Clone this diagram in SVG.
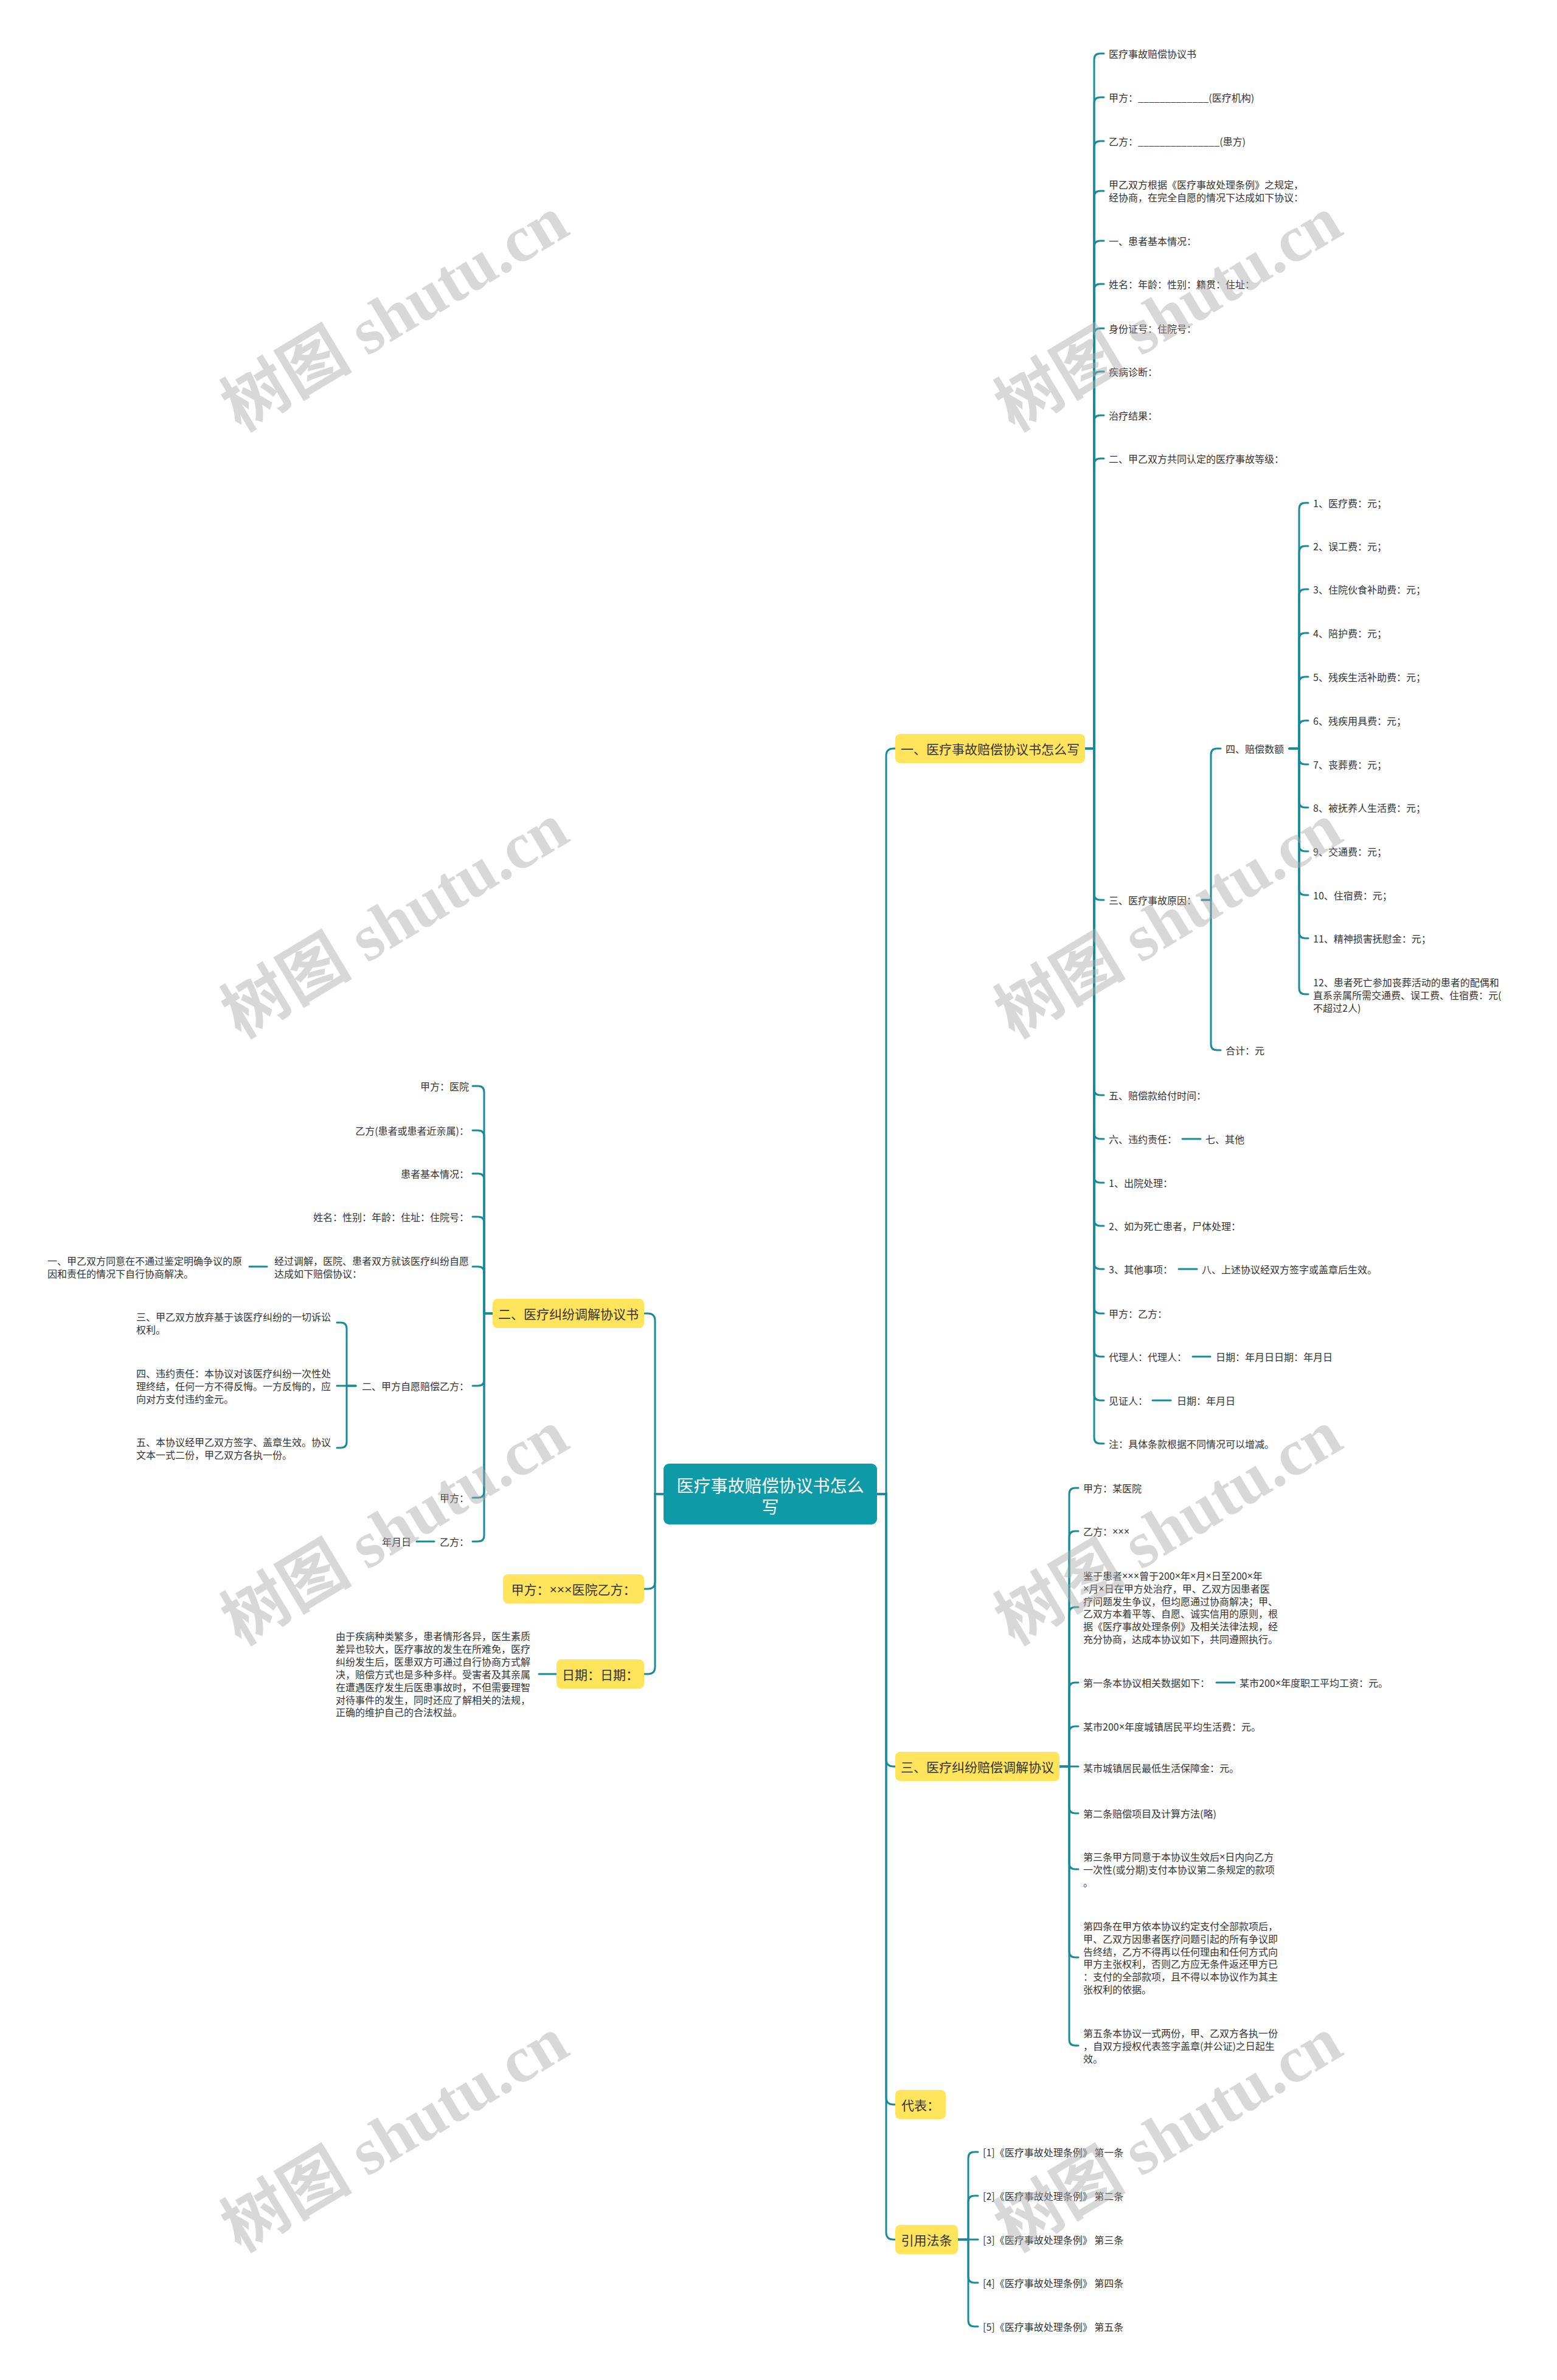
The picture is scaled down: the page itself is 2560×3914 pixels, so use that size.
<svg xmlns="http://www.w3.org/2000/svg" width="2560" height="3914" viewBox="0 0 2560 3914">
<style>
.bg{fill:#ffffff}
.ln{fill:none;stroke:#178b99;stroke-width:3;stroke-linecap:round}
.t{font-family:"Noto Sans CJK SC","Noto Sans",sans-serif;font-size:16px;fill:#333333;dominant-baseline:central}
.e{text-anchor:end}
.x{font-family:"Liberation Sans",sans-serif}
.yb{fill:#ffe45c}
.bt{font-family:"Noto Sans CJK SC","Noto Sans",sans-serif;font-size:21px;fill:#333333;dominant-baseline:central;text-anchor:middle}
.root{fill:#0f9aa8}
.rt{font-family:"Noto Sans CJK SC","Noto Sans",sans-serif;font-size:28px;fill:#ffffff;dominant-baseline:central;text-anchor:middle}
.wm{font-family:"Liberation Serif","Noto Sans CJK SC",serif;font-size:108px;font-weight:bold;fill:#a8a8a8;fill-opacity:0.45;text-anchor:middle;dominant-baseline:central}
</style>
<rect class="bg" x="0" y="0" width="2560" height="3914"/>

<g id="connectors">
<path class="ln" d="M1442,2457 H1457 V1243 Q1457,1231 1469,1231 H1472"/>
<path class="ln" d="M1442,2457 H1457 V2893 Q1457,2905 1469,2905 H1472"/>
<path class="ln" d="M1442,2457 H1457 V3449 Q1457,3461 1469,3461 H1472"/>
<path class="ln" d="M1442,2457 H1457 V3671 Q1457,3683 1469,3683 H1472"/>
<path class="ln" d="M1091,2457 H1077 V2172 Q1077,2160 1065,2160 H1059"/>
<path class="ln" d="M1091,2457 H1077 V2601 Q1077,2613 1065,2613 H1059"/>
<path class="ln" d="M1091,2457 H1077 V2741 Q1077,2753 1065,2753 H1059"/>
<path class="ln" d="M810,2160 H796 V1796 Q796,1786 786,1786 H777"/>
<path class="ln" d="M810,2160 H796 V1869 Q796,1859 786,1859 H777"/>
<path class="ln" d="M810,2160 H796 V1940 Q796,1930 786,1930 H777"/>
<path class="ln" d="M810,2160 H796 V2011 Q796,2001 786,2001 H777"/>
<path class="ln" d="M810,2160 H796 V2093 Q796,2083 786,2083 H777"/>
<path class="ln" d="M810,2160 H796 V2269 Q796,2279 786,2279 H777"/>
<path class="ln" d="M810,2160 H796 V2453 Q796,2463 786,2463 H777"/>
<path class="ln" d="M810,2160 H796 V2525 Q796,2535 786,2535 H777"/>
<path class="ln" d="M439,2083 H410"/>
<path class="ln" d="M585,2279 H570 V2185 Q570,2175 560,2175 H554"/>
<path class="ln" d="M585,2279 H554"/>
<path class="ln" d="M585,2279 H570 V2371 Q570,2381 560,2381 H554"/>
<path class="ln" d="M714,2535 H685"/>
<path class="ln" d="M915,2753 H886"/>
<path class="ln" d="M1784,1231 H1799 V98 Q1799,88 1809,88 H1815"/>
<path class="ln" d="M1784,1231 H1799 V170 Q1799,160 1809,160 H1815"/>
<path class="ln" d="M1784,1231 H1799 V242 Q1799,232 1809,232 H1815"/>
<path class="ln" d="M1784,1231 H1799 V324 Q1799,314 1809,314 H1815"/>
<path class="ln" d="M1784,1231 H1799 V406 Q1799,396 1809,396 H1815"/>
<path class="ln" d="M1784,1231 H1799 V477 Q1799,467 1809,467 H1815"/>
<path class="ln" d="M1784,1231 H1799 V550 Q1799,540 1809,540 H1815"/>
<path class="ln" d="M1784,1231 H1799 V621 Q1799,611 1809,611 H1815"/>
<path class="ln" d="M1784,1231 H1799 V693 Q1799,683 1809,683 H1815"/>
<path class="ln" d="M1784,1231 H1799 V764 Q1799,754 1809,754 H1815"/>
<path class="ln" d="M1784,1231 H1799 V1470 Q1799,1480 1809,1480 H1815"/>
<path class="ln" d="M1784,1231 H1799 V1791 Q1799,1801 1809,1801 H1815"/>
<path class="ln" d="M1784,1231 H1799 V1863 Q1799,1873 1809,1873 H1815"/>
<path class="ln" d="M1784,1231 H1799 V1935 Q1799,1945 1809,1945 H1815"/>
<path class="ln" d="M1784,1231 H1799 V2006 Q1799,2016 1809,2016 H1815"/>
<path class="ln" d="M1784,1231 H1799 V2077 Q1799,2087 1809,2087 H1815"/>
<path class="ln" d="M1784,1231 H1799 V2150 Q1799,2160 1809,2160 H1815"/>
<path class="ln" d="M1784,1231 H1799 V2221 Q1799,2231 1809,2231 H1815"/>
<path class="ln" d="M1784,1231 H1799 V2293 Q1799,2303 1809,2303 H1815"/>
<path class="ln" d="M1784,1231 H1799 V2364 Q1799,2374 1809,2374 H1815"/>
<path class="ln" d="M1976,1480 H1991 V1241 Q1991,1231 2001,1231 H2007"/>
<path class="ln" d="M1976,1480 H1991 V1717 Q1991,1727 2001,1727 H2007"/>
<path class="ln" d="M2120,1231 H2136 V837 Q2136,827 2146,827 H2151"/>
<path class="ln" d="M2120,1231 H2136 V908 Q2136,898 2146,898 H2151"/>
<path class="ln" d="M2120,1231 H2136 V979 Q2136,969 2146,969 H2151"/>
<path class="ln" d="M2120,1231 H2136 V1051 Q2136,1041 2146,1041 H2151"/>
<path class="ln" d="M2120,1231 H2136 V1123 Q2136,1113 2146,1113 H2151"/>
<path class="ln" d="M2120,1231 H2136 V1195 Q2136,1185 2146,1185 H2151"/>
<path class="ln" d="M2120,1231 H2136 V1247 Q2136,1257 2146,1257 H2151"/>
<path class="ln" d="M2120,1231 H2136 V1318 Q2136,1328 2146,1328 H2151"/>
<path class="ln" d="M2120,1231 H2136 V1390 Q2136,1400 2146,1400 H2151"/>
<path class="ln" d="M2120,1231 H2136 V1462 Q2136,1472 2146,1472 H2151"/>
<path class="ln" d="M2120,1231 H2136 V1533 Q2136,1543 2146,1543 H2151"/>
<path class="ln" d="M2120,1231 H2136 V1625 Q2136,1635 2146,1635 H2151"/>
<path class="ln" d="M1944,1873 H1974"/>
<path class="ln" d="M1938,2087 H1968"/>
<path class="ln" d="M1961,2231 H1990"/>
<path class="ln" d="M1895,2303 H1925"/>
<path class="ln" d="M1742,2905 H1758 V2457 Q1758,2447 1768,2447 H1773"/>
<path class="ln" d="M1742,2905 H1758 V2528 Q1758,2518 1768,2518 H1773"/>
<path class="ln" d="M1742,2905 H1758 V2653 Q1758,2643 1768,2643 H1773"/>
<path class="ln" d="M1742,2905 H1758 V2777 Q1758,2767 1768,2767 H1773"/>
<path class="ln" d="M1742,2905 H1758 V2849 Q1758,2839 1768,2839 H1773"/>
<path class="ln" d="M1742,2905 H1773"/>
<path class="ln" d="M1742,2905 H1758 V2972 Q1758,2982 1768,2982 H1773"/>
<path class="ln" d="M1742,2905 H1758 V3064 Q1758,3074 1768,3074 H1773"/>
<path class="ln" d="M1742,2905 H1758 V3209 Q1758,3219 1768,3219 H1773"/>
<path class="ln" d="M1742,2905 H1758 V3354 Q1758,3364 1768,3364 H1773"/>
<path class="ln" d="M2000,2767 H2030"/>
<path class="ln" d="M1575,3683 H1592 V3549 Q1592,3539 1602,3539 H1608"/>
<path class="ln" d="M1575,3683 H1592 V3621 Q1592,3611 1602,3611 H1608"/>
<path class="ln" d="M1575,3683 H1608"/>
<path class="ln" d="M1575,3683 H1592 V3744 Q1592,3754 1602,3754 H1608"/>
<path class="ln" d="M1575,3683 H1592 V3816 Q1592,3826 1602,3826 H1608"/>
</g>

<g id="root">
<rect class="root" x="1091" y="2407" width="351" height="100" rx="9"/>
<text class="rt" x="1266.5" y="2442">医疗事故赔偿协议书怎么</text>
<text class="rt" x="1266.5" y="2477">写</text>
</g>

<g id="n1">
<rect class="yb" x="1472" y="1207" width="312" height="48" rx="8"/>
<text class="bt" x="1628" y="1231">一、医疗事故赔偿协议书怎么写</text>
</g>
<g id="n1-items">
<text class="t" x="1823" y="88">医疗事故赔偿协议书</text>
<text class="t" x="1823" y="160">甲方：_____________(医疗机构)</text>
<text class="t" x="1823" y="232">乙方：_______________(患方)</text>
<text class="t" x="1823" y="303">甲乙双方根据《医疗事故处理条例》之规定，<tspan x="1823" dy="21">经协商，在完全自愿的情况下达成如下协议：</tspan></text>
<text class="t" x="1823" y="396">一、患者基本情况：</text>
<text class="t" x="1823" y="467">姓名：年龄：性别：籍贯：住址：</text>
<text class="t" x="1823" y="540">身份证号：住院号：</text>
<text class="t" x="1823" y="611">疾病诊断：</text>
<text class="t" x="1823" y="683">治疗结果：</text>
<text class="t" x="1823" y="754">二、甲乙双方共同认定的医疗事故等级：</text>
<text class="t" x="1823" y="1480">三、医疗事故原因：</text>
<text class="t" x="2015" y="1231">四、赔偿数额</text>
<text class="t" x="2015" y="1727">合计：元</text>
<text class="t" x="2159" y="827">1、医疗费：元；</text>
<text class="t" x="2159" y="898">2、误工费：元；</text>
<text class="t" x="2159" y="969">3、住院伙食补助费：元；</text>
<text class="t" x="2159" y="1041">4、陪护费：元；</text>
<text class="t" x="2159" y="1113">5、残疾生活补助费：元；</text>
<text class="t" x="2159" y="1185">6、残疾用具费：元；</text>
<text class="t" x="2159" y="1257">7、丧葬费：元；</text>
<text class="t" x="2159" y="1328">8、被抚养人生活费：元；</text>
<text class="t" x="2159" y="1400">9、交通费：元；</text>
<text class="t" x="2159" y="1472">10、住宿费：元；</text>
<text class="t" x="2159" y="1543">11、精神损害抚慰金：元；</text>
<text class="t" x="2159" y="1615">12、患者死亡参加丧葬活动的患者的配偶和<tspan x="2159" dy="21">直系亲属所需交通费、误工费、住宿费：元(</tspan><tspan x="2159" dy="21">不超过2人)</tspan></text>
<text class="t" x="1823" y="1801">五、赔偿款给付时间：</text>
<text class="t" x="1823" y="1873">六、违约责任：</text>
<text class="t" x="1982" y="1873">七、其他</text>
<text class="t" x="1823" y="1945">1、出院处理：</text>
<text class="t" x="1823" y="2016">2、如为死亡患者，尸体处理：</text>
<text class="t" x="1823" y="2087">3、其他事项：</text>
<text class="t" x="1976" y="2087">八、上述协议经双方签字或盖章后生效。</text>
<text class="t" x="1823" y="2160">甲方：乙方：</text>
<text class="t" x="1823" y="2231">代理人：代理人：</text>
<text class="t" x="1999" y="2231">日期：年月日日期：年月日</text>
<text class="t" x="1823" y="2303">见证人：</text>
<text class="t" x="1935" y="2303">日期：年月日</text>
<text class="t" x="1823" y="2374">注：具体条款根据不同情况可以增减。</text>
</g>

<g id="n3">
<rect class="yb" x="1472" y="2881" width="270" height="48" rx="8"/>
<text class="bt" x="1607" y="2905">三、医疗纠纷赔偿调解协议</text>
</g>
<g id="n3-items">
<text class="t" x="1781" y="2447">甲方：某医院</text>
<text class="t" x="1781" y="2518">乙方：<tspan class="x">×××</tspan></text>
<text class="t" x="1781" y="2591">鉴于患者<tspan class="x">×××</tspan>曾于200<tspan class="x">×</tspan>年<tspan class="x">×</tspan>月<tspan class="x">×</tspan>日至200<tspan class="x">×</tspan>年<tspan x="1781" dy="20.8"><tspan class="x">×</tspan>月<tspan class="x">×</tspan>日在甲方处治疗，甲、乙双方因患者医</tspan><tspan x="1781" dy="20.8">疗问题发生争议，但均愿通过协商解决；甲、</tspan><tspan x="1781" dy="20.8">乙双方本着平等、自愿、诚实信用的原则，根</tspan><tspan x="1781" dy="20.8">据《医疗事故处理条例》及相关法律法规，经</tspan><tspan x="1781" dy="20.8">充分协商，达成本协议如下，共同遵照执行。</tspan></text>
<text class="t" x="1781" y="2767">第一条本协议相关数据如下：</text>
<text class="t" x="2038" y="2767">某市200<tspan class="x">×</tspan>年度职工平均工资：元。</text>
<text class="t" x="1781" y="2839">某市200<tspan class="x">×</tspan>年度城镇居民平均生活费：元。</text>
<text class="t" x="1781" y="2907">某市城镇居民最低生活保障金：元。</text>
<text class="t" x="1781" y="2982">第二条赔偿项目及计算方法(略)</text>
<text class="t" x="1781" y="3053">第三条甲方同意于本协议生效后<tspan class="x">×</tspan>日内向乙方<tspan x="1781" dy="21">一次性(或分期)支付本协议第二条规定的款项</tspan><tspan x="1781" dy="21">。</tspan></text>
<text class="t" x="1781" y="3167">第四条在甲方依本协议约定支付全部款项后，<tspan x="1781" dy="20.8">甲、乙双方因患者医疗问题引起的所有争议即</tspan><tspan x="1781" dy="20.8">告终结，乙方不得再以任何理由和任何方式向</tspan><tspan x="1781" dy="20.8">甲方主张权利，否则乙方应无条件返还甲方已</tspan><tspan x="1781" dy="20.8">：支付的全部款项，且不得以本协议作为其主</tspan><tspan x="1781" dy="20.8">张权利的依据。</tspan></text>
<text class="t" x="1781" y="3343">第五条本协议一式两份，甲、乙双方各执一份<tspan x="1781" dy="21">，自双方授权代表签字盖章(并公证)之日起生</tspan><tspan x="1781" dy="21">效。</tspan></text>
</g>

<g id="n-daibiao">
<rect class="yb" x="1472" y="3437" width="83" height="48" rx="8"/>
<text class="bt" x="1513.5" y="3461">代表：</text>
</g>

<g id="n-yinyong">
<rect class="yb" x="1472" y="3659" width="103" height="48" rx="8"/>
<text class="bt" x="1523.5" y="3683">引用法条</text>
</g>
<g id="n-yinyong-items">
<text class="t" x="1616" y="3539">[1]《医疗事故处理条例》 第一条</text>
<text class="t" x="1616" y="3611">[2]《医疗事故处理条例》 第二条</text>
<text class="t" x="1616" y="3683">[3]《医疗事故处理条例》 第三条</text>
<text class="t" x="1616" y="3754">[4]《医疗事故处理条例》 第四条</text>
<text class="t" x="1616" y="3826">[5]《医疗事故处理条例》 第五条</text>
</g>

<g id="n2">
<rect class="yb" x="810" y="2136" width="249" height="48" rx="8"/>
<text class="bt" x="934.5" y="2160">二、医疗纠纷调解协议书</text>
</g>
<g id="n2-items">
<text class="t e" x="771" y="1786">甲方：医院</text>
<text class="t e" x="771" y="1859">乙方(患者或患者近亲属)：</text>
<text class="t e" x="771" y="1930">患者基本情况：</text>
<text class="t e" x="771" y="2001">姓名：性别：年龄：住址：住院号：</text>
<text class="t" x="451" y="2073">经过调解，医院、患者双方就该医疗纠纷自愿<tspan x="451" dy="21">达成如下赔偿协议：</tspan></text>
<text class="t" x="78" y="2073">一、甲乙双方同意在不通过鉴定明确争议的原<tspan x="78" dy="21">因和责任的情况下自行协商解决。</tspan></text>
<text class="t e" x="771" y="2279">二、甲方自愿赔偿乙方：</text>
<text class="t" x="224" y="2165">三、甲乙双方放弃基于该医疗纠纷的一切诉讼<tspan x="224" dy="21">权利。</tspan></text>
<text class="t" x="224" y="2258">四、违约责任：本协议对该医疗纠纷一次性处<tspan x="224" dy="21">理终结，任何一方不得反悔。一方反悔的，应</tspan><tspan x="224" dy="21">向对方支付违约金元。</tspan></text>
<text class="t" x="224" y="2371">五、本协议经甲乙双方签字、盖章生效。协议<tspan x="224" dy="21">文本一式二份，甲乙双方各执一份。</tspan></text>
<text class="t e" x="771" y="2463">甲方：</text>
<text class="t e" x="771" y="2535">乙方：</text>
<text class="t e" x="676" y="2535">年月日</text>
</g>

<g id="n-jiafang">
<rect class="yb" x="827" y="2589" width="232" height="48" rx="8"/>
<text class="bt" x="943" y="2613">甲方：<tspan class="x">×××</tspan>医院乙方：</text>
</g>

<g id="n-riqi">
<rect class="yb" x="915" y="2729" width="144" height="48" rx="8"/>
<text class="bt" x="987" y="2753">日期：日期：</text>
</g>
<g id="n-riqi-items">
<text class="t" x="552" y="2690">由于疾病种类繁多，患者情形各异，医生素质<tspan x="552" dy="20.9">差异也较大，医疗事故的发生在所难免，医疗</tspan><tspan x="552" dy="20.9">纠纷发生后，医患双方可通过自行协商方式解</tspan><tspan x="552" dy="20.9">决，赔偿方式也是多种多样。受害者及其亲属</tspan><tspan x="552" dy="20.9">在遭遇医疗发生后医患事故时，不但需要理智</tspan><tspan x="552" dy="20.9">对待事件的发生，同时还应了解相关的法规，</tspan><tspan x="552" dy="20.9">正确的维护自己的合法权益。</tspan></text>
</g>

<g id="watermarks">
<text class="wm" transform="translate(649,516) rotate(-31)">树图 shutu.cn</text>
<text class="wm" transform="translate(1921,516) rotate(-31)">树图 shutu.cn</text>
<text class="wm" transform="translate(649,1514) rotate(-31)">树图 shutu.cn</text>
<text class="wm" transform="translate(1921,1514) rotate(-31)">树图 shutu.cn</text>
<text class="wm" transform="translate(649,2512) rotate(-31)">树图 shutu.cn</text>
<text class="wm" transform="translate(1921,2512) rotate(-31)">树图 shutu.cn</text>
<text class="wm" transform="translate(649,3510) rotate(-31)">树图 shutu.cn</text>
<text class="wm" transform="translate(1921,3510) rotate(-31)">树图 shutu.cn</text>
</g>
</svg>
